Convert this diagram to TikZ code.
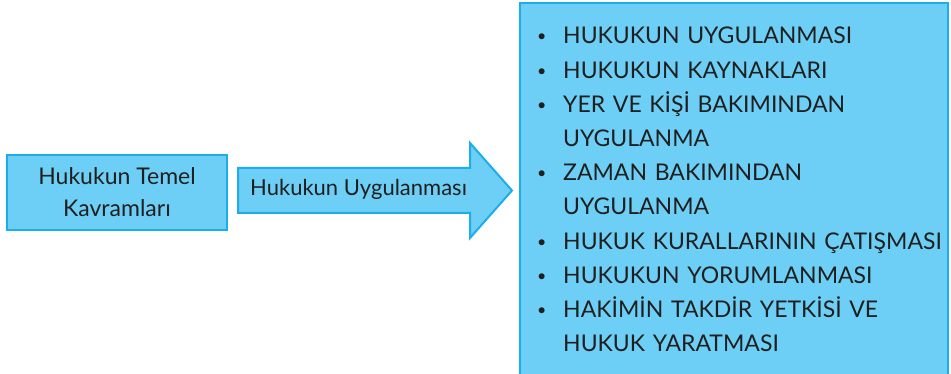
\documentclass[tikz,border=0pt]{standalone}
\usepackage{fontspec}
\setmainfont{Lato}
\usetikzlibrary{positioning}
\definecolor{kutu}{HTML}{6DCFF6}
\definecolor{kenar}{HTML}{1CAEEA}
\newcommand{\madde}[1]{\makebox[26pt][l]{\raisebox{2pt}{\fontsize{16}{16}\selectfont\textbullet}}#1}

\begin{document}
\begin{tikzpicture}[x=1pt,y=-1pt,
    kavram/.style={draw=kenar,fill=kutu,line width=2pt,align=center,
      font=\fontsize{23}{32}\selectfont,text=black!88},
    okkutu/.style={draw=kenar,fill=kutu,line width=2pt,line join=miter},
    yazi/.style={inner sep=0pt,font=\fontsize{22}{25}\selectfont,text=black!88}]
    \useasboundingbox (0,0) rectangle (951,374);

    %% Left box
    \node[kavram,minimum width=220pt,minimum height=75pt] (temel) at (117,192.5)
        {Hukukun Temel\\Kavramları};

    %% Arrow
    \draw[okkutu] (238,168) -- (470,168) -- (470,143) -- (512,190.5)
        -- (470,238) -- (470,213) -- (238,213) -- cycle;
    \node[yazi,anchor=base west] (uygulama) at (250,196) {Hukukun Uygulanması};

    %% Right box with the list
    \node[draw=kenar,fill=kutu,line width=2pt,minimum width=428pt,minimum height=380pt,
        anchor=north west] (konular) at (519,2) {};
    \node[anchor=base west,inner sep=0pt,text width=410pt,align=left,
        font=\fontsize{23}{34.2}\selectfont,text=black!88] (liste) at (537,44)
        {\madde{HUKUKUN UYGULANMASI}\\
         \madde{HUKUKUN KAYNAKLARI}\\
         \madde{YER VE KİŞİ BAKIMINDAN}\\
         \hspace*{26pt}UYGULANMA\\
         \madde{ZAMAN BAKIMINDAN}\\
         \hspace*{26pt}UYGULANMA\\
         \madde{HUKUK KURALLARININ ÇATIŞMASI}\\
         \madde{HUKUKUN YORUMLANMASI}\\
         \madde{HAKİMİN TAKDİR YETKİSİ VE}\\
         \hspace*{26pt}HUKUK YARATMASI};
\end{tikzpicture}
\end{document}
